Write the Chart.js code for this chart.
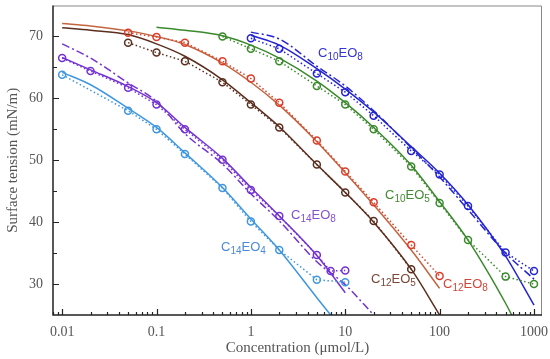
<!DOCTYPE html>
<html>
<head>
<meta charset="utf-8">
<script src="https://cdn.jsdelivr.net/npm/chart.js@4.4.1/dist/chart.umd.min.js"></script>
<style>
  body { margin: 0; background: #fff; }
  #wrap { width: 550px; height: 359px; }
</style>
</head>
<body>
<div id="wrap"><canvas id="chart" width="550" height="359"></canvas></div>
<script>
const c10eo8Conc = [1, 2, 5, 10, 20, 50, 100, 200, 500, 1000];
const c10eo8Gamma = [69.7, 68.0, 64.0, 61.0, 57.2, 51.5, 47.7, 42.6, 35.1, 32.1];
const c10eo8FitConc = [1, 2, 5, 10, 20, 50, 100, 200, 500, 1000];
const c10eo8Fit = [70.2, 68.6, 64.8, 61.5, 57.8, 52.2, 47.9, 42.8, 34.5, 26.6];
const c10eo8Alt = [70.7, 69.6, 65.2, 62.0, 58.0, 52.0, 47.3, 42.0, 35.0, 30.8];

const c10eo5Conc = [0.5, 1, 2, 5, 10, 20, 50, 100, 200, 500, 1000];
const c10eo5Gamma = [70.0, 68.0, 66.0, 62.0, 59.0, 55.0, 49.0, 43.1, 37.1, 31.2, 30.0];
const c10eo5FitConc = [0.1, 0.2, 0.5, 1, 2, 5, 10, 20, 50, 100, 200, 500, 580];
const c10eo5Fit = [71.5, 71.0, 70.1, 68.6, 66.5, 62.8, 59.3, 55.3, 49.2, 43.3, 37.1, 26.9, 25.0];

const c12eo8Conc = [0.05, 0.1, 0.2, 0.5, 1, 2, 5, 10, 20, 50, 100];
const c12eo8Gamma = [70.6, 69.9, 69.0, 66.0, 63.2, 59.3, 53.2, 48.2, 43.2, 36.3, 31.3];
const c12eo8FitConc = [0.01, 0.02, 0.05, 0.1, 0.2, 0.5, 1, 2, 5, 10, 20, 50, 100];
const c12eo8Fit = [72.1, 71.7, 70.9, 70.0, 68.7, 65.7, 62.6, 58.9, 53.0, 48.0, 42.8, 35.5, 29.3];

const c12eo5Conc = [0.05, 0.1, 0.2, 0.5, 1, 2, 5, 10, 20, 50];
const c12eo5Gamma = [69.0, 67.4, 66.0, 62.6, 59.0, 55.3, 49.3, 44.8, 40.2, 32.4];
const c12eo5FitConc = [0.01, 0.02, 0.05, 0.1, 0.2, 0.5, 1, 2, 5, 10, 20, 50, 100];
const c12eo5Fit = [71.4, 71.0, 70.3, 68.8, 66.8, 63.0, 59.3, 55.4, 49.3, 44.8, 40.0, 32.4, 25.0];

const c14eo8Conc = [0.01, 0.02, 0.05, 0.1, 0.2, 0.5, 1, 2, 5, 7, 10];
const c14eo8Gamma = [66.5, 64.4, 61.7, 59.0, 55.0, 50.1, 45.2, 41.0, 34.7, 32.1, 32.2];
const c14eo8FitConc = [0.01, 0.02, 0.05, 0.1, 0.2, 0.5, 1, 2, 5, 10];
const c14eo8Fit = [66.6, 64.6, 61.9, 59.3, 55.3, 50.3, 45.6, 41.0, 34.6, 28.6];
const c14eo8AltConc = [0.01, 0.02, 0.05, 0.1, 0.2, 0.5, 1, 2, 5, 10, 20];
const c14eo8Alt = [68.8, 66.5, 62.5, 59.5, 54.3, 49.4, 44.6, 40.2, 33.6, 29.9, 25.0];

const c14eo4Conc = [0.01, 0.05, 0.1, 0.2, 0.5, 1, 2, 5, 10];
const c14eo4Gamma = [63.8, 58.0, 55.0, 51.0, 45.5, 40.1, 35.5, 30.7, 30.3];
const c14eo4FitConc = [0.01, 0.02, 0.05, 0.1, 0.2, 0.5, 1, 2, 5, 7];
const c14eo4Fit = [64.2, 62.2, 58.4, 55.3, 51.2, 45.6, 40.5, 35.5, 27.8, 25.0];

const xTickLabels = [0.01, 0.1, 1, 10, 100, 1000];
const yTickLabels = [30, 40, 50, 60, 70];

const pts = (xs, ys) => xs.map((x, i) => ({ x: x, y: ys[i] }));

const SERIF = '"Liberation Serif", "Times New Roman", serif';
const SANS = '"Liberation Sans", Arial, sans-serif';

function fitLine(xs, ys, color, dash) {
  return {
    data: pts(xs, ys),
    borderColor: color,
    borderWidth: 1.5,
    borderDash: dash || [],
    pointRadius: 0,
    cubicInterpolationMode: 'monotone',
    fill: false,
    order: 2,
  };
}

function measured(xs, ys, color, lineColor) {
  return {
    data: pts(xs, ys),
    borderColor: lineColor || color,
    borderWidth: 1.5,
    borderDash: [1.5, 2.5],
    pointRadius: 3.5,
    pointBorderWidth: 1.5,
    pointBorderColor: color,
    pointBackgroundColor: 'rgba(255,255,255,0)',
    tension: 0,
    fill: false,
    order: 1,
  };
}

const blue = '#2424d2';
const green = '#3a8a2c';
const red = '#de3c2a';
const orange = '#c4643e';
const brown = '#5c2e1e';
const purple = '#7432d2';
const lightBlue = '#3f97df';

// text labels next to curves: [parts, x, baseline, colour]
const seriesLabels = [
  [['C', '10', 'EO', '8'], 318, 57, '#3434d4'],
  [['C', '10', 'EO', '5'], 385, 199, '#3f8a30'],
  [['C', '12', 'EO', '5'], 371, 283, '#7a4636'],
  [['C', '12', 'EO', '8'], 443, 288, '#d2463a'],
  [['C', '14', 'EO', '8'], 291, 219, '#8452d2'],
  [['C', '14', 'EO', '4'], 221, 251, '#4b8ad8'],
];

const framePlugin = {
  id: 'framePlugin',
  afterDraw(chart) {
    const { ctx, chartArea: a, scales: { x, y } } = chart;
    ctx.save();
    ctx.strokeStyle = '#888';
    ctx.lineWidth = 1;
    ctx.beginPath();
    ctx.moveTo(a.left, a.top + 0.5);
    ctx.lineTo(a.right - 0.5, a.top + 0.5);
    ctx.lineTo(a.right - 0.5, a.bottom);
    ctx.stroke();

    ctx.strokeStyle = '#222';
    ctx.lineWidth = 1.5;
    ctx.beginPath();
    ctx.moveTo(a.left, a.top);
    ctx.lineTo(a.left, a.bottom);
    ctx.lineTo(a.right, a.bottom);
    ctx.stroke();

    // inward ticks
    ctx.lineWidth = 1.2;
    ctx.beginPath();
    for (let e = -3; e <= 3; e++) {
      for (let m = 1; m <= 9; m++) {
        const v = m * Math.pow(10, e);
        if (v < x.min || v > x.max) continue;
        const px = Math.round(x.getPixelForValue(v)) + 0.5;
        const len = m === 1 ? 6 : 3;
        ctx.moveTo(px, a.bottom);
        ctx.lineTo(px, a.bottom - len);
      }
    }
    for (let v = 30; v <= 70; v += 5) {
      const py = Math.round(y.getPixelForValue(v)) + 0.5;
      const len = v % 10 === 0 ? 6 : 4;
      ctx.moveTo(a.left, py);
      ctx.lineTo(a.left + len, py);
    }
    ctx.stroke();

    // curve labels with subscripts
    seriesLabels.forEach(([parts, lx, ly, col]) => {
      let cx = lx;
      ctx.fillStyle = col;
      ctx.textBaseline = 'alphabetic';
      ctx.textAlign = 'left';
      parts.forEach((p, i) => {
        const sub = i % 2 === 1;
        ctx.font = (sub ? '10px ' : '13px ') + SANS;
        ctx.fillText(p, cx, ly + (sub ? 3 : 0));
        cx += ctx.measureText(p).width;
      });
    });
    ctx.restore();
  }
};

function noPad(scale) {
  scale.paddingTop = 0;
  scale.paddingBottom = 0;
  scale.paddingLeft = 0;
  scale.paddingRight = 0;
}

new Chart(document.getElementById('chart'), {
  type: 'line',
  data: {
    datasets: [
      measured(c10eo8Conc, c10eo8Gamma, blue),
      fitLine(c10eo8FitConc, c10eo8Fit, blue),
      fitLine(c10eo8FitConc, c10eo8Alt, blue, [8, 3, 2, 3]),
      measured(c10eo5Conc, c10eo5Gamma, green),
      fitLine(c10eo5FitConc, c10eo5Fit, green),
      measured(c12eo8Conc, c12eo8Gamma, red, '#d4482e'),
      fitLine(c12eo8FitConc, c12eo8Fit, orange),
      measured(c12eo5Conc, c12eo5Gamma, brown),
      fitLine(c12eo5FitConc, c12eo5Fit, brown),
      measured(c14eo8Conc, c14eo8Gamma, purple),
      fitLine(c14eo8FitConc, c14eo8Fit, purple),
      fitLine(c14eo8AltConc, c14eo8Alt, purple, [8, 3, 2, 3]),
      measured(c14eo4Conc, c14eo4Gamma, lightBlue),
      fitLine(c14eo4FitConc, c14eo4Fit, lightBlue),
    ]
  },
  options: {
    responsive: false,
    animation: false,
    devicePixelRatio: 1,
    layout: { padding: { top: 3, right: 8, left: 0, bottom: 0 } },
    plugins: { legend: { display: false }, tooltip: { enabled: false } },
    scales: {
      x: {
        type: 'logarithmic',
        min: 0.008,
        max: 1216,
        grid: { display: false, drawTicks: false },
        border: { display: false },
        afterBuildTicks: (scale) => { scale.ticks = xTickLabels.map(v => ({ value: v })); },
        afterFit: (scale) => { scale.height = 44; noPad(scale); },
        ticks: {
          autoSkip: false,
          maxRotation: 0,
          padding: 9,
          color: '#555',
          font: { family: SERIF, size: 14 },
          callback: (v) => String(v),
        },
        title: {
          display: true,
          text: 'Concentration (μmol/L)',
          color: '#555',
          font: { family: SERIF, size: 15 },
          padding: { top: 0, bottom: 2 },
        },
      },
      y: {
        min: 25,
        max: 75,
        grid: { display: false, drawTicks: false },
        border: { display: false },
        afterBuildTicks: (scale) => { scale.ticks = yTickLabels.map(v => ({ value: v })); },
        afterFit: (scale) => { scale.width = 53; noPad(scale); },
        ticks: {
          padding: 10,
          color: '#555',
          font: { family: SERIF, size: 14 },
        },
        title: {
          display: true,
          text: 'Surface tension (mN/m)',
          color: '#555',
          font: { family: SERIF, size: 15 },
          padding: { top: 4, bottom: 0 },
        },
      },
    },
  },
  plugins: [framePlugin],
});
</script>
</body>
</html>
